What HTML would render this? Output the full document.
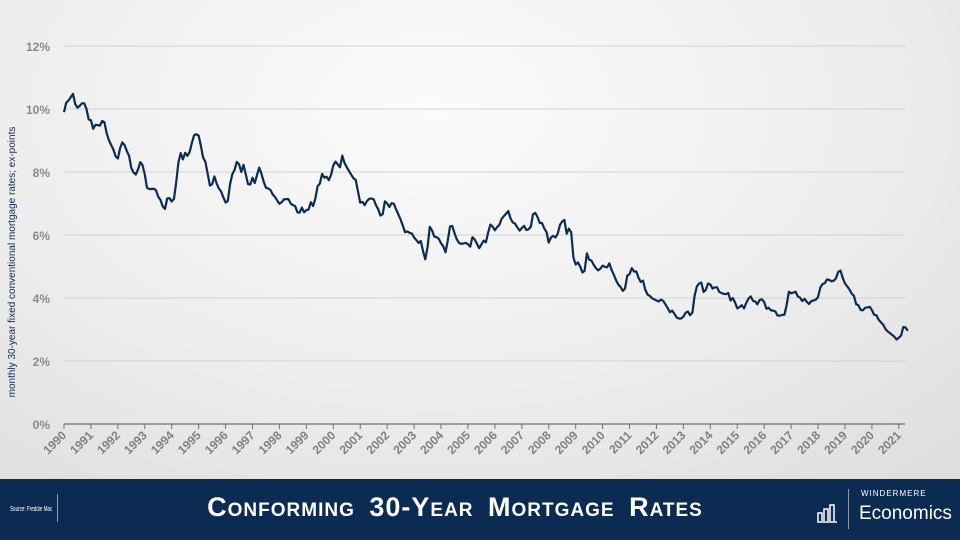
<!DOCTYPE html>
<html><head><meta charset="utf-8">
<style>
html,body{margin:0;padding:0;}
body{width:960px;height:540px;overflow:hidden;position:relative;font-family:"Liberation Sans",sans-serif;
background:radial-gradient(ellipse 80% 90% at 45% 20%,#fbfbfb 0%,#eeeeee 55%,#dedede 100%);}
#footer{position:absolute;left:0;top:479px;width:960px;height:61px;background:#0c2b52;}
#footer div{position:absolute;color:#fff;}
</style></head><body>
<svg id="chart" width="960" height="480" style="position:absolute;left:0;top:0">
<g id="grid"></g><g id="axes"></g><g id="series"></g>
<text transform="translate(15,262) rotate(-90)" text-anchor="middle" font-size="10" fill="#0c2b52" font-family="Liberation Sans, sans-serif">monthly 30-year fixed conventional mortgage rates; ex-points</text>
</svg>
<div id="footer">
<div style="left:10px;top:27px;font-size:7px;transform:scaleX(0.65);transform-origin:0 0;white-space:nowrap;">Source: Freddie Mac</div>
<div style="left:57px;top:15px;width:1px;height:28px;background:#8a9ab0"></div>
<div style="left:190px;width:530px;text-align:center;top:13px;font-size:27px;font-weight:bold;font-variant:small-caps;letter-spacing:1px;word-spacing:6px;font-family:'Liberation Sans Narrow','Liberation Sans',sans-serif;">Conforming 30-Year Mortgage Rates</div>
<div style="left:816px;top:22px;">
<svg width="22" height="22"><g fill="none" stroke="#fff" stroke-width="1.5"><path d="M2 20V12h4v8M8 20V8h4v12M14 20V4h4v16"/><path d="M1 21h20"/></g></svg></div>
<div style="left:848px;top:10px;width:1px;height:40px;background:#8a9ab0"></div>
<div style="left:861px;top:10px;font-size:8px;letter-spacing:1px;">WINDERMERE</div>
<div style="left:859px;top:24px;font-size:19px;">Economics</div>
</div>
<script>
const yTicks=[0,2,4,6,8,10,12];
const years=[1990,1991,1992,1993,1994,1995,1996,1997,1998,1999,2000,2001,2002,2003,2004,2005,2006,2007,2008,2009,2010,2011,2012,2013,2014,2015,2016,2017,2018,2019,2020,2021];
const startYear=1990;
const rates=[
9.9,10.2,10.27,10.37,10.48,10.16,10.04,10.1,10.18,10.18,10.01,9.67,
9.64,9.37,9.5,9.49,9.47,9.62,9.58,9.24,9.01,8.86,8.71,8.5,
8.43,8.76,8.94,8.85,8.67,8.51,8.13,7.98,7.92,8.09,8.31,8.22,
7.92,7.5,7.46,7.46,7.47,7.42,7.21,7.11,6.91,6.83,7.16,7.17,
7.06,7.15,7.68,8.32,8.6,8.4,8.61,8.51,8.64,8.93,9.17,9.2,
9.15,8.83,8.46,8.32,7.96,7.57,7.61,7.86,7.64,7.48,7.38,7.2,
7.03,7.08,7.62,7.93,8.07,8.32,8.25,8.0,8.23,7.92,7.62,7.6,
7.82,7.65,7.9,8.14,7.94,7.69,7.5,7.48,7.43,7.29,7.21,7.1,
6.99,7.04,7.13,7.14,7.14,7.0,6.95,6.92,6.72,6.71,6.87,6.72,
6.79,6.81,7.04,6.92,7.15,7.55,7.63,7.94,7.82,7.85,7.74,7.91,
8.21,8.33,8.24,8.15,8.52,8.29,8.15,8.03,7.91,7.8,7.75,7.38,
7.03,7.05,6.95,7.08,7.15,7.16,7.13,6.95,6.82,6.62,6.66,7.07,
7.0,6.89,7.01,6.99,6.81,6.65,6.49,6.29,6.09,6.11,6.07,6.05,
5.92,5.84,5.75,5.81,5.48,5.23,5.63,6.26,6.15,5.95,5.93,5.88,
5.74,5.64,5.45,5.83,6.27,6.29,6.06,5.87,5.75,5.72,5.73,5.75,
5.71,5.63,5.93,5.86,5.72,5.58,5.7,5.82,5.77,6.07,6.33,6.27,
6.15,6.25,6.32,6.51,6.6,6.68,6.76,6.52,6.4,6.36,6.24,6.14,
6.22,6.29,6.16,6.18,6.26,6.66,6.7,6.57,6.38,6.38,6.21,6.1,
5.76,5.92,5.97,5.92,6.04,6.32,6.43,6.48,6.04,6.2,6.09,5.29,
5.06,5.13,5.0,4.81,4.86,5.42,5.22,5.19,5.06,4.95,4.88,4.93,
5.03,4.99,4.97,5.1,4.89,4.74,4.56,4.43,4.35,4.23,4.3,4.71,
4.76,4.95,4.84,4.84,4.64,4.51,4.55,4.27,4.11,4.07,3.99,3.96,
3.92,3.89,3.95,3.91,3.8,3.68,3.55,3.6,3.5,3.38,3.35,3.35,
3.41,3.53,3.57,3.45,3.54,4.07,4.37,4.46,4.49,4.19,4.26,4.46,
4.43,4.3,4.34,4.34,4.19,4.16,4.13,4.12,4.16,3.92,4.0,3.86,
3.67,3.71,3.77,3.67,3.84,3.98,4.05,3.91,3.89,3.8,3.94,3.96,
3.87,3.66,3.69,3.61,3.6,3.57,3.44,3.44,3.46,3.47,3.77,4.2,
4.15,4.17,4.2,4.05,4.01,3.9,3.97,3.88,3.81,3.9,3.92,3.95,
4.03,4.33,4.44,4.47,4.59,4.57,4.53,4.55,4.63,4.83,4.87,4.64,
4.46,4.37,4.27,4.14,4.07,3.8,3.77,3.62,3.61,3.69,3.7,3.72,
3.62,3.47,3.45,3.31,3.23,3.16,3.02,2.94,2.89,2.83,2.77,2.68,
2.74,2.81,3.08,3.06,2.96];
const NS='http://www.w3.org/2000/svg';
const X0=64,PX_YEAR=26.93,Y0=424,PX_PCT=31.5,XEND=905;
function xs(t){return X0+(t-startYear)*PX_YEAR;}
function ys(v){return Y0-v*PX_PCT;}
function mk(tag,attrs,parent){const e=document.createElementNS(NS,tag);for(const k in attrs)e.setAttribute(k,attrs[k]);parent.appendChild(e);return e;}
const grid=document.getElementById('grid'),axes=document.getElementById('axes'),series=document.getElementById('series');
yTicks.forEach(v=>{
  if(v>0){const g=mk('line',{x1:X0,x2:XEND,y1:ys(v),y2:ys(v),stroke:'#d2d2d2','stroke-width':1},grid);
  
  }
  const t=mk('text',{x:50,y:ys(v)+5,'text-anchor':'end','font-size':12,'font-weight':'bold',fill:'#8a8a8a'},axes);
  
  
  t.textContent=v+'%';
});
const ax=mk('line',{x1:X0,x2:XEND,y1:Y0,y2:Y0,stroke:'#707070','stroke-width':1.2},axes);


years.forEach(y=>{
  const x=xs(y);
  const tk=mk('line',{x1:x,x2:x,y1:Y0,y2:Y0+5,stroke:'#707070','stroke-width':1},axes);
  
  
  const t=mk('text',{x:x+3,y:Y0+12,'text-anchor':'end','font-size':12,'font-weight':'bold',fill:'#808080',transform:`rotate(-45 ${x+3} ${Y0+12})`},axes);
  
  
  t.textContent=y;
});
const d=rates.map((v,i)=>(i?'L':'M')+xs(startYear+i/12).toFixed(1)+' '+ys(v).toFixed(1)).join(' ');
const p=mk('path',{d:d,fill:'none',stroke:'#0c2b52','stroke-width':2.2,'stroke-linejoin':'round'},series);


</script>
</body></html>
